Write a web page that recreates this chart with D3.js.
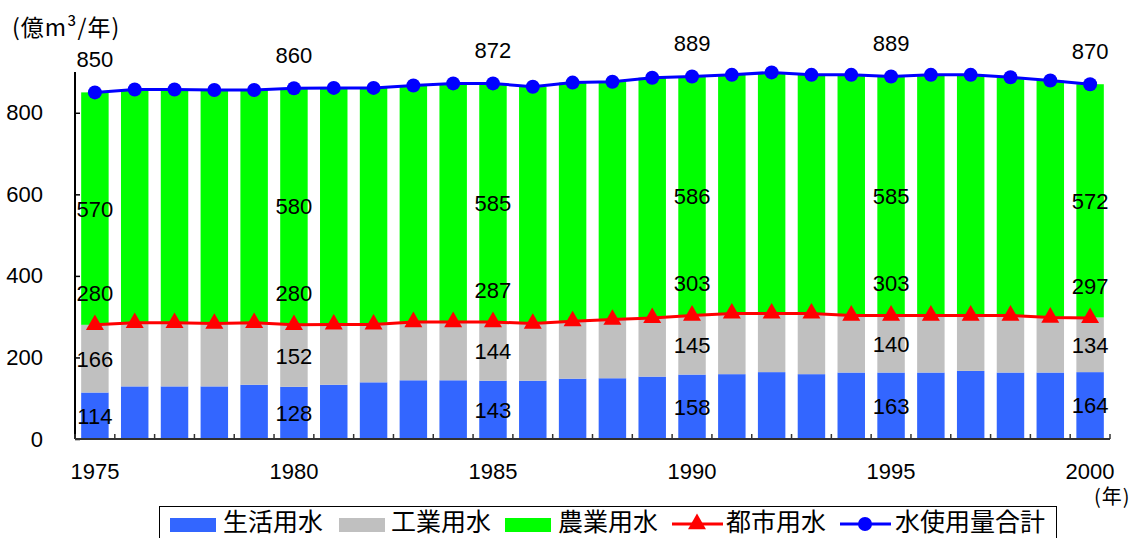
<!DOCTYPE html>
<html>
<head>
<meta charset="utf-8">
<script src="https://cdn.jsdelivr.net/npm/d3@7"></script>
<style>
  html, body { margin: 0; padding: 0; background: #fff; }
  svg { display: block; }
  text { font-family: "Liberation Sans", Arial, "Noto Sans CJK JP", sans-serif; fill: #000; }
  .cjk { font-family: "Noto Sans CJK JP", "Liberation Sans", sans-serif; }
</style>
</head>
<body>
<svg id="chart" width="1139" height="538"></svg>
<script>
// 日本の水使用量の推移（億m³/年）
const years = [1975, 1976, 1977, 1978, 1979, 1980, 1981, 1982, 1983, 1984, 1985, 1986, 1987,
               1988, 1989, 1990, 1991, 1992, 1993, 1994, 1995, 1996, 1997, 1998, 1999, 2000];
// 生活用水
const domestic = [114, 129, 129, 129, 133, 128, 133, 139, 144, 144, 143, 143, 148,
                  149, 153, 158, 159, 164, 159, 163, 163, 163, 167, 163, 163, 164];
// 工業用水
const industrial = [166, 156, 156, 154, 152, 152, 148, 142, 143, 143, 144, 140, 141,
                    144, 144, 145, 149, 144, 149, 140, 140, 140, 136, 140, 135, 134];
// 農業用水
const agricultural = [570, 572, 572, 573, 571, 580, 580, 580, 580, 585, 585, 581, 585,
                      583, 589, 586, 585, 591, 585, 590, 585, 590, 590, 584, 581, 572];
// 都市用水（生活用水＋工業用水）
const urban = [280, 285, 285, 283, 285, 280, 281, 281, 287, 287, 287, 283, 289,
               293, 297, 303, 308, 308, 308, 303, 303, 303, 303, 303, 298, 297];
// 水使用量合計
const total = [850, 857, 857, 856, 856, 860, 861, 861, 867, 872, 872, 864, 874,
               876, 886, 889, 893, 899, 893, 893, 889, 893, 893, 887, 879, 870];
// 値ラベルを表示する年
const labelYears = [1975, 1980, 1985, 1990, 1995, 2000];
const yTicks = [0, 200, 400, 600, 800];

const seriesKeys = ["domestic", "industrial", "agricultural"];
const seriesNames = { domestic: "生活用水", industrial: "工業用水", agricultural: "農業用水" };
const colors = { domestic: "#3366FF", industrial: "#C0C0C0", agricultural: "#00FF00",
                 urban: "#FF0000", total: "#0000FF" };

const rows = years.map((yr, i) => ({
  year: yr, domestic: domestic[i], industrial: industrial[i], agricultural: agricultural[i],
  urban: urban[i], total: total[i]
}));

const svg = d3.select("#chart");
const plotLeft = 75, plotRight = 1110, plotTop = 72, plotBottom = 439;

const pad = 0.31;
const x = d3.scaleBand().domain(years).range([plotLeft, plotRight]).paddingInner(pad).paddingOuter(pad / 2);
const y = d3.scaleLinear().domain([0, 900]).range([plotBottom, plotTop]);
const cx = yr => x(yr) + x.bandwidth() / 2;

// 積み上げ棒
const stacked = d3.stack().keys(seriesKeys)(rows);
svg.append("g").selectAll("g").data(stacked).join("g")
  .attr("fill", d => colors[d.key])
  .selectAll("rect").data(d => d).join("rect")
  .attr("x", d => x(d.data.year))
  .attr("width", x.bandwidth())
  .attr("y", d => y(d[1]))
  .attr("height", d => y(d[0]) - y(d[1]));

// Y軸（目盛りは内向き）
const yAxis = d3.axisLeft(y).tickValues(yTicks).tickSizeInner(-5).tickSizeOuter(0).tickPadding(32);
const gy = svg.append("g").attr("transform", `translate(${plotLeft},0)`).call(yAxis);
gy.select(".domain").remove();
gy.selectAll(".tick line").attr("stroke", "#000").attr("stroke-width", 1.5);
gy.selectAll(".tick text").attr("font-size", 22).attr("fill", "#000")
  .attr("font-family", "'Liberation Sans', Arial, sans-serif");
svg.append("line").attr("x1", plotLeft).attr("x2", plotLeft).attr("y1", plotTop).attr("y2", plotBottom)
  .attr("stroke", "#000").attr("stroke-width", 2);

// X軸（区切り目盛りは内向き）
svg.append("line").attr("x1", plotLeft).attr("x2", plotRight).attr("y1", plotBottom).attr("y2", plotBottom)
  .attr("stroke", "#333").attr("stroke-width", 2);
const boundaries = d3.range(years.length + 1).map(i => plotLeft + i * x.step());
svg.append("g").selectAll("line").data(boundaries).join("line")
  .attr("x1", d => d).attr("x2", d => d)
  .attr("y1", plotBottom).attr("y2", plotBottom - 5)
  .attr("stroke", "#333").attr("stroke-width", 1.5);
svg.append("g").selectAll("text").data(labelYears).join("text")
  .attr("x", d => cx(d)).attr("y", 479)
  .attr("text-anchor", "middle").attr("font-size", 22)
  .text(d => d);

// 単位
svg.append("text").attr("class", "cjk").attr("x", 12).attr("y", 36)
  .attr("font-size", 23).attr("letter-spacing", 1).text("(億m³/年)");
svg.append("text").attr("class", "cjk").attr("x", 1094).attr("y", 504)
  .attr("font-size", 20).attr("letter-spacing", 1).text("(年)");

// 折れ線
const line = key => d3.line().x(d => cx(d.year)).y(d => y(d[key]));

svg.append("path").datum(rows)
  .attr("fill", "none").attr("stroke", colors.urban).attr("stroke-width", 3)
  .attr("d", line("urban"));
const tri = d3.symbol().type(d3.symbolTriangle).size(140);
svg.append("g").selectAll("path").data(rows).join("path")
  .attr("transform", d => `translate(${cx(d.year)},${y(d.urban)})`)
  .attr("d", tri).attr("fill", colors.urban);

svg.append("path").datum(rows)
  .attr("fill", "none").attr("stroke", colors.total).attr("stroke-width", 3)
  .attr("d", line("total"));
svg.append("g").selectAll("circle").data(rows).join("circle")
  .attr("cx", d => cx(d.year)).attr("cy", d => y(d.total))
  .attr("r", 7).attr("fill", colors.total);

// 値ラベル
const labelRows = rows.filter(d => labelYears.includes(d.year));
const lbl = svg.append("g").attr("font-size", 22).attr("text-anchor", "middle");
labelRows.forEach(d => {
  const xc = cx(d.year);
  const items = [
    [y(d.total) - 33, d.total],
    [(y(d.urban) + y(d.total)) / 2, d.agricultural],
    [y(d.urban) - 32, d.urban],
    [(y(d.domestic) + y(d.urban)) / 2, d.industrial],
    [(y(0) + y(d.domestic)) / 2, d.domestic]
  ];
  items.forEach(([yy, v]) => {
    lbl.append("text").attr("x", xc).attr("y", yy).attr("dy", "0.36em").text(v);
  });
});

// 凡例
const lg = svg.append("g");
lg.append("rect").attr("x", 159.5).attr("y", 506.5).attr("width", 897).attr("height", 40)
  .attr("fill", "#fff").attr("stroke", "#000").attr("stroke-width", 1);
const legendItems = [
  { key: "domestic", kind: "rect", x: 170, tx: 223 },
  { key: "industrial", kind: "rect", x: 339, tx: 391 },
  { key: "agricultural", kind: "rect", x: 505, tx: 558 },
  { key: "urban", kind: "tri", x: 672, tx: 726, name: "都市用水" },
  { key: "total", kind: "dot", x: 840, tx: 895, name: "水使用量合計" }
];
legendItems.forEach(it => {
  if (it.kind === "rect") {
    lg.append("rect").attr("x", it.x).attr("y", 518).attr("width", 46).attr("height", 14)
      .attr("fill", colors[it.key]);
  } else {
    lg.append("line").attr("x1", it.x).attr("x2", it.x + 51).attr("y1", 524).attr("y2", 524)
      .attr("stroke", colors[it.key]).attr("stroke-width", 3);
    if (it.kind === "tri") {
      lg.append("path").attr("transform", `translate(${it.x + 25},524)`)
        .attr("d", tri).attr("fill", colors[it.key]);
    } else {
      lg.append("circle").attr("cx", it.x + 25).attr("cy", 524).attr("r", 7)
        .attr("fill", colors[it.key]);
    }
  }
  lg.append("text").attr("class", "cjk").attr("x", it.tx).attr("y", 531)
    .attr("font-size", 25).text(it.name || seriesNames[it.key]);
});
</script>
</body>
</html>
